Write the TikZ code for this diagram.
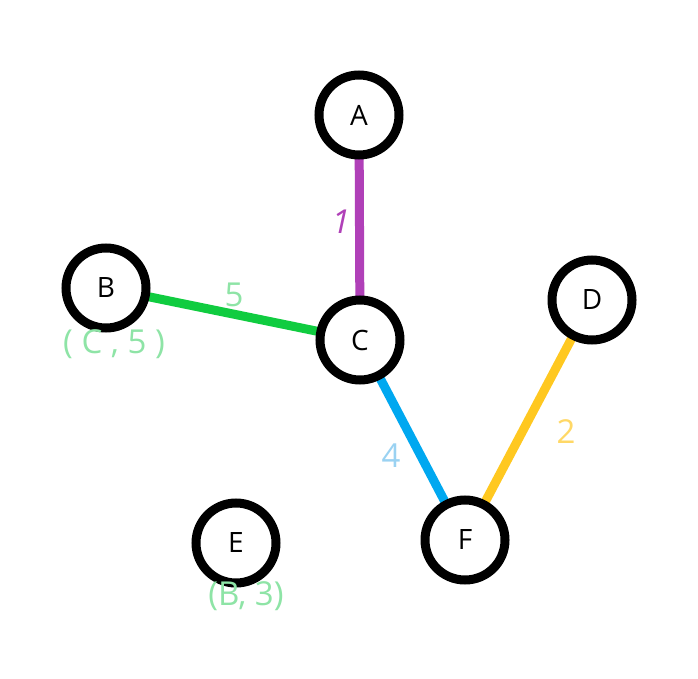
\documentclass[tikz,border=0pt]{standalone}
\usepackage{fontspec}
\setmainfont{Open Sans}
\usetikzlibrary{backgrounds}
\definecolor{epurple}{HTML}{B040B8}
\definecolor{egreen}{HTML}{10CC40}
\definecolor{eblue}{HTML}{00A8F0}
\definecolor{eyellow}{HTML}{FFC820}
\definecolor{lgreen}{HTML}{8EE4A6}
\definecolor{lblue}{HTML}{9AD2F2}
\definecolor{lyellow}{HTML}{FFD866}
\begin{document}
\begin{tikzpicture}[x=1pt,y=-1pt,
  vert/.style={circle,draw=black,fill=white,line width=9pt,minimum size=80pt,inner sep=0pt,font=\fontsize{28}{32}\selectfont},
  edge/.style={line width=9pt,line cap=round},
  hand/.style={font=\fontsize{33}{36}\selectfont}]
\useasboundingbox (0,0) rectangle (698,679);
\node[vert] (A) at (359,115) {A};
\node[vert] (B) at (106,288) {B};
\node[vert] (C) at (360,340) {C};
\node[vert] (D) at (592,300) {D};
\node[vert] (E) at (236,543) {E};
\node[vert] (F) at (465,540) {F};
\begin{pgfonlayer}{background}
\fill[white] (0,0) rectangle (698,679);
\draw[edge,epurple] (A) -- (C);
\draw[edge,egreen] (B) -- (C);
\draw[edge,eblue] (C) -- (F);
\draw[edge,eyellow] (D) -- (F);
\end{pgfonlayer}
\node[hand,text=epurple,font=\fontsize{33}{36}\selectfont\itshape] (l1) at (341,222) {1};
\node[hand,text=lgreen] (l5) at (234,295) {5};
\node[hand,text=lblue] (l4) at (391,456) {4};
\node[hand,text=lyellow] (l2) at (566,432) {2};
\node[hand,text=lgreen] (lb) at (114,344) {( C , 5 )};
\node[hand,text=lgreen] (le) at (246,596) {(B, 3)};
\end{tikzpicture}
\end{document}
